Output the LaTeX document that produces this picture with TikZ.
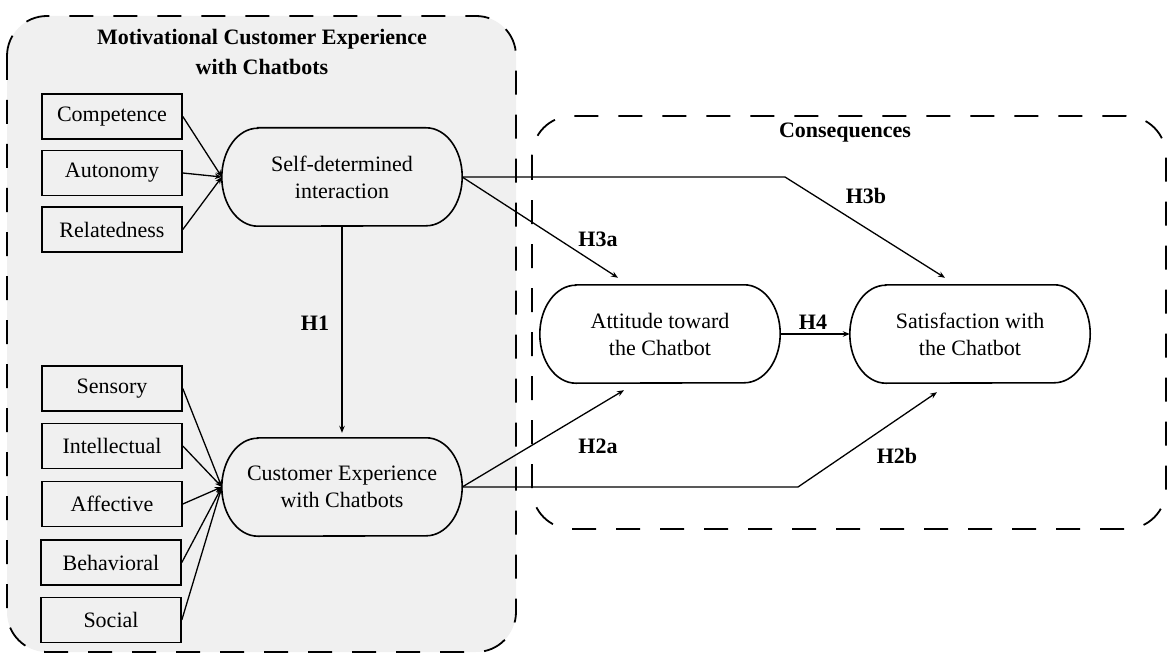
\documentclass[tikz,border=0pt]{standalone}
\usepackage{fontspec}
\setmainfont{Liberation Serif}
\usetikzlibrary{arrows.meta}
\definecolor{panelgray}{HTML}{F0F0F0}
\begin{document}
\begin{tikzpicture}[x=1pt,y=-1pt,
  every node/.style={font=\fontsize{22}{27}\selectfont, align=center, inner sep=0pt},
  itembox/.style={draw, line width=1.6pt, minimum width=140pt, minimum height=45pt},
  stadium/.style={minimum width=240pt, minimum height=98pt},
  lbl/.style={font=\fontsize{22}{27}\selectfont\bfseries},
  arr/.style={line width=1.3pt, -{Stealth[length=7pt,width=5.5pt]}},
  panel/.style={line width=1.8pt, dash pattern=on 24pt off 20pt, rounded corners=40pt}
]
\useasboundingbox (0,0) rectangle (1169,655);
% panels
\draw[panel, fill=panelgray] (7,16) rectangle (516,652);
\draw[panel] (532,116) rectangle (1166,529);
\node[font=\fontsize{22}{30}\selectfont\bfseries] (ttl) at (262,52) {Motivational Customer Experience\\with Chatbots};
\node[lbl] (cons) at (845,133) {Consequences};
% small boxes
\node[itembox] (comp) at (112,116.5) {Competence};
\node[itembox] (auto) at (112,173) {Autonomy};
\node[itembox] (rel) at (112,229.5) {Relatedness};
\node[itembox] (sens) at (112,388.5) {Sensory};
\node[itembox] (int) at (112,446) {Intellectual};
\node[itembox] (aff) at (112,504) {Affective};
\node[itembox] (beh) at (111,562.5) {Behavioral};
\node[itembox] (soc) at (111,620) {Social};
% stadiums
\node[stadium] (sdi) at (342,177) {Self-determined\\interaction};
\node[stadium] (cex) at (342,487) {Customer Experience\\with Chatbots};
\node[stadium] (att) at (660,334) {Attitude toward\\the Chatbot};
\node[stadium] (sat) at (970,334) {Satisfaction with\\the Chatbot};
\foreach \n in {sdi,cex,att,sat}{
  \draw[line width=1.6pt] ([xshift=36pt]\n.north west) -- ([xshift=-36pt]\n.north east)
    arc[start angle=90,end angle=-90,x radius=36pt,y radius=49pt]
    -- ([xshift=36pt]\n.south west)
    arc[start angle=270,end angle=90,x radius=36pt,y radius=49pt] -- cycle;
}
% indicator arrows
\foreach \b in {comp,auto,rel}{\draw[arr] (\b.east) -- (sdi.west);}
\foreach \b in {sens,int,aff,beh,soc}{\draw[arr] (\b.east) -- (cex.west);}
% hypotheses
\coordinate (b3) at (785,177);
\coordinate (b2) at (798,487);
\draw[arr] (sdi.south) -- ([yshift=5pt]cex.north);
\draw[arr] (sdi.east) -- ([xshift=-42pt,yshift=7pt]att.north);
\draw[arr] (sdi.east) -- (b3) -- ([xshift=-25pt,yshift=7pt]sat.north);
\draw[arr] (cex.east) -- ([xshift=-36pt,yshift=-7pt]att.south);
\draw[arr] (cex.east) -- (b2) -- ([xshift=-33pt,yshift=-9pt]sat.south);
\draw[arr] (att.east) -- (sat.west);
% labels
\node[lbl] (h1) at (315,323) {H1};
\node[lbl] (h3a) at (598,239) {H3a};
\node[lbl] (h3b) at (866,196) {H3b};
\node[lbl] (h2a) at (598,446) {H2a};
\node[lbl] (h2b) at (897,456) {H2b};
\node[lbl] (h4) at (813,322) {H4};
\end{tikzpicture}
\end{document}
